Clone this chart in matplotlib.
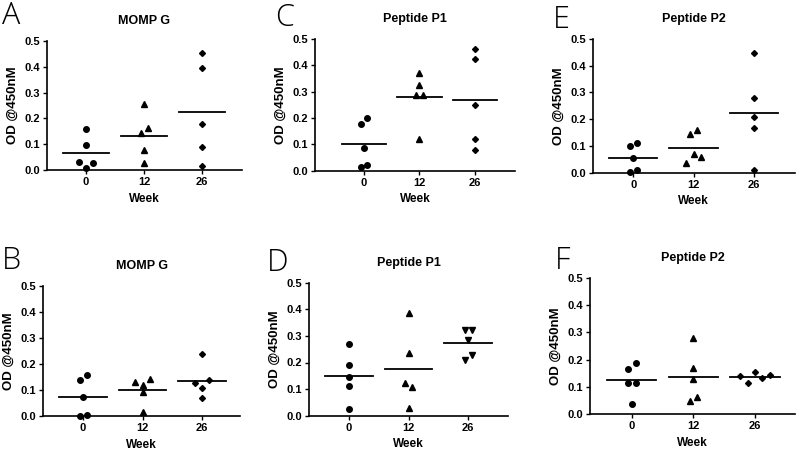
import matplotlib
matplotlib.use("Agg")
import matplotlib.pyplot as plt
import numpy as np

plt.rcParams['font.family'] = ['Liberation Sans', 'DejaVu Sans']
plt.rcParams['font.weight'] = 'bold'

weeks = ['0', '12', '26']

# OD values per week (0, 12, 26) for each panel
a_w0 = [0.160, 0.096, 0.032, 0.009, 0.028]
a_w12 = [0.256, 0.145, 0.161, 0.079, 0.026]
a_w26 = [0.452, 0.395, 0.180, 0.088, 0.017]

c_w0 = [0.176, 0.200, 0.087, 0.015, 0.0215]
c_w12 = [0.372, 0.325, 0.289, 0.289, 0.120]
c_w26 = [0.463, 0.423, 0.248, 0.119, 0.080]

e_w0 = [0.101, 0.110, 0.056, 0.0025, 0.010]
e_w12 = [0.145, 0.161, 0.036, 0.069, 0.060]
e_w26 = [0.446, 0.281, 0.207, 0.166, 0.011]

b_w0 = [0.137, 0.156, 0.074, 0.001, 0.002]
b_w12 = [0.131, 0.118, 0.141, 0.092, 0.017]
b_w26 = [0.238, 0.128, 0.108, 0.137, 0.069]

d_w0 = [0.268, 0.192, 0.147, 0.113, 0.024]
d_w12 = [0.387, 0.235, 0.124, 0.109, 0.030]
d_w26 = [0.322, 0.322, 0.285, 0.209, 0.228]

f_w0 = [0.165, 0.189, 0.113, 0.113, 0.036]
f_w12 = [0.279, 0.168, 0.127, 0.048, 0.0625]
f_w26 = [0.138, 0.115, 0.153, 0.131, 0.142]

W, H = 796, 450


def swarm(vals, d=0.12, thr=0.025):
    # group close values into rows, spread each row sideways
    vals = np.asarray(vals)
    order = np.argsort(-vals, kind='stable')
    rows = [[order[0]]]
    for i in order[1:]:
        if vals[rows[-1][-1]] - vals[i] < thr:
            rows[-1].append(i)
        else:
            rows.append([i])
    offs = np.zeros(len(vals))
    for r in rows:
        r = sorted(r)
        n = len(r)
        for k, idx in enumerate(r):
            offs[idx] = (k - (n - 1) / 2) * d
    return offs


# letter, title, data, markers, box (left, bottom, width, height px), xlim, letter pos
panels = [
    ('A', 'MOMP G', [a_w0, a_w12, a_w26], ['o', '^', 'D'],
     (46.7, 280, 195.3, 129), (-0.68, 2.69), (2, 0)),
    ('C', 'Peptide P1', [c_w0, c_w12, c_w26], ['o', '^', 'D'],
     (315, 279.3, 200, 131.7), (-0.88, 2.72), (275, 2)),
    ('E', 'Peptide P2', [e_w0, e_w12, e_w26], ['o', '^', 'D'],
     (592.7, 277.3, 202.3, 133.7), (-0.67, 2.68), (553, 4)),
    ('B', 'MOMP G', [b_w0, b_w12, b_w26], ['o', '^', 'D'],
     (43.3, 34, 196.7, 130), (-0.67, 2.64), (2, 245)),
    ('D', 'Peptide P1', [d_w0, d_w12, d_w26], ['o', '^', 'v'],
     (309, 34.3, 199, 133), (-0.67, 2.67), (267, 247)),
    ('F', 'Peptide P2', [f_w0, f_w12, f_w26], ['o', '^', 'D'],
     (590, 36, 205, 136), (-0.68, 2.65), (555, 245)),
]

msize = {'o': 4.0, '^': 4.0, 'v': 4.0, 'D': 3.0}

fig = plt.figure(figsize=(W / 100, H / 100), dpi=100)

for letter, title, groups, marks, box, xlim, lpos in panels:
    l, b, w, h = box
    ax = fig.add_axes([l / W, b / H, w / W, h / H])
    for i, (vals, m) in enumerate(zip(groups, marks)):
        xs = i + swarm(vals)
        ax.plot(xs, vals, linestyle='none', marker=m, color='black',
                markersize=msize[m], clip_on=False, zorder=3)
        mu = np.mean(vals)
        ax.plot([i - 0.4, i + 0.4], [mu, mu], color='black', lw=1.3, zorder=2)
    ax.set_xlim(*xlim)
    ax.set_ylim(0, 0.5)
    ax.set_yticks(np.arange(0, 0.51, 0.1))
    ax.set_yticklabels(['%.1f' % v for v in np.arange(0, 0.51, 0.1)])
    ax.set_xticks(range(3))
    ax.set_xticklabels(weeks)
    for s in ['top', 'right']:
        ax.spines[s].set_visible(False)
    for s in ['left', 'bottom']:
        ax.spines[s].set_linewidth(1.2)
    ax.tick_params(direction='out', length=3, width=1, labelsize=8, pad=2)
    for t in ax.get_xticklabels() + ax.get_yticklabels():
        t.set_fontweight('bold')
    ax.set_title(title, fontsize=9, fontweight='bold', pad=12)
    ax.set_xlabel('Week', fontsize=8.5, fontweight='bold', labelpad=4)
    ax.set_ylabel('OD @450nM', fontsize=9.5, fontweight='bold', labelpad=4)
    fig.text(lpos[0] / W, 1 - lpos[1] / H, letter, fontsize=22,
             fontweight='light', family=['Open Sans', 'DejaVu Sans'],
             ha='left', va='top')

fig.savefig('out.png', dpi=100)
